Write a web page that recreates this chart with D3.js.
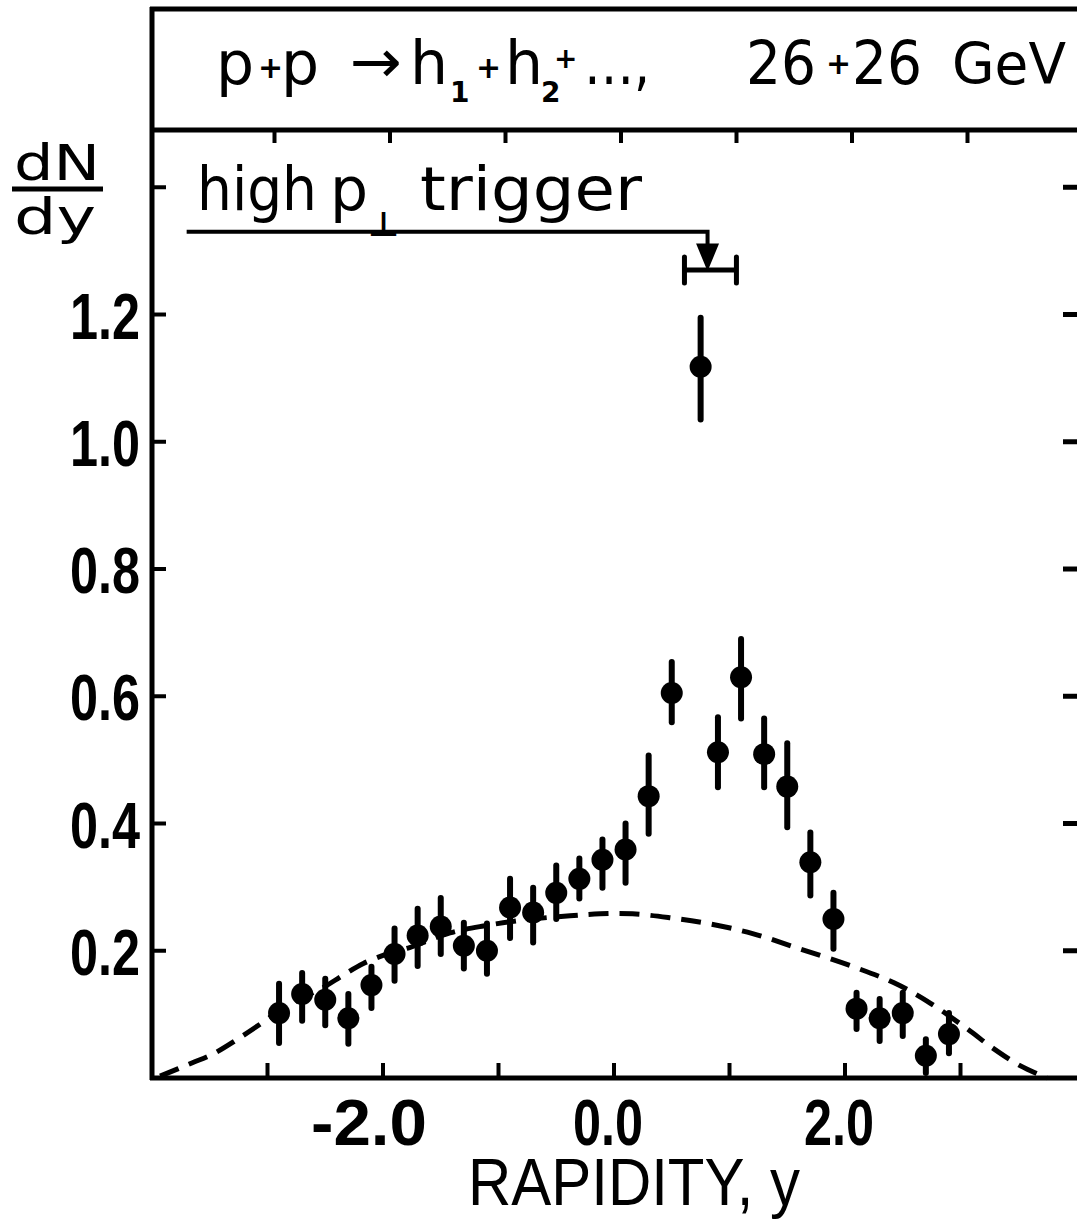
<!DOCTYPE html>
<html>
<head>
<meta charset="utf-8">
<script src="https://cdn.jsdelivr.net/npm/d3@7"></script>
<style>
html,body{margin:0;padding:0;background:#fff;}
svg{display:block;}
</style>
</head>
<body>
<svg id="chart" width="1077" height="1230"></svg>
<script>
// ---------- data ----------
const rapidity = [-2.9,-2.7,-2.5,-2.3,-2.1,-1.9,-1.7,-1.5,-1.3,-1.1,-0.9,-0.7,-0.5,-0.3,-0.1,0.1,0.3,0.5,0.9,1.1,1.3,1.5,1.7,1.9,2.1,2.3,2.5,2.7,2.9];
const dNdy     = [0.102,0.132,0.123,0.094,0.146,0.195,0.224,0.238,0.208,0.200,0.268,0.260,0.291,0.313,0.343,0.359,0.443,0.605,0.512,0.630,0.509,0.458,0.339,0.250,0.109,0.094,0.102,0.035,0.069];
const errLow   = [0.055,0.090,0.083,0.054,0.110,0.153,0.176,0.195,0.172,0.164,0.220,0.213,0.250,0.282,0.299,0.307,0.384,0.559,0.457,0.565,0.457,0.394,0.287,0.203,0.077,0.058,0.066,0.008,0.039];
const errHigh  = [0.148,0.165,0.156,0.132,0.175,0.235,0.266,0.283,0.244,0.243,0.313,0.299,0.334,0.345,0.375,0.400,0.507,0.654,0.567,0.690,0.565,0.526,0.386,0.291,0.134,0.124,0.134,0.061,0.102];

// trigger particle point
const trigX = [0.75];
const trigY = [1.118];
const trigLow = [1.035];
const trigHigh = [1.195];
const trigRange = [0.61, 1.06];
const trigArrowX = [0.81];

// dashed reference curve
const curveX = [-3.93,-3.65,-3.47,-3.26,-3.06,-2.87,-2.72,-2.52,-2.35,-2.17,-1.88,-1.77,-1.42,-1.13,-0.75,-0.38,-0.12,0.16,0.48,0.81,1.20,1.61,2.07,2.42,2.71,3.06,3.28,3.52,3.75];
const curveY = [0.003,0.024,0.038,0.061,0.085,0.109,0.124,0.142,0.161,0.180,0.200,0.205,0.228,0.239,0.249,0.255,0.258,0.258,0.252,0.243,0.227,0.203,0.175,0.150,0.121,0.077,0.047,0.019,0.0];

const xTicks = [-3,-2,-1,0,1,2,3];
const xTickLabels = [[-2,"-2.0"],[0,"0.0"],[2,"2.0"]];
const yTicks = [0.2,0.4,0.6,0.8,1.0,1.2,1.4];
const yTickLabels = [[0.2,"0.2"],[0.4,"0.4"],[0.6,"0.6"],[0.8,"0.8"],[1.0,"1.0"],[1.2,"1.2"]];

// ---------- layout ----------
const svg = d3.select("#chart");
const L = 152, R = 1076, B = 1078, T = 130, TOP = 9;
const x = d3.scaleLinear().domain([-4, 4]).range([L, R]);
const y = d3.scaleLinear().domain([0, 1.49]).range([B, T]);

const ink = "#000";
const numFont = "'Liberation Sans', Arial, sans-serif";
const txtFont = "'DejaVu Sans', 'Noto Sans', sans-serif";

// frame lines
svg.append("line").attr("x1", L).attr("x2", L).attr("y1", TOP - 2).attr("y2", B + 2)
  .attr("stroke", ink).attr("stroke-width", 5);
svg.append("line").attr("x1", L - 2).attr("x2", 1077).attr("y1", B).attr("y2", B)
  .attr("stroke", ink).attr("stroke-width", 5);
svg.append("line").attr("x1", L - 2).attr("x2", 1077).attr("y1", T).attr("y2", T)
  .attr("stroke", ink).attr("stroke-width", 5);
svg.append("line").attr("x1", L - 2).attr("x2", 1077).attr("y1", TOP).attr("y2", TOP)
  .attr("stroke", ink).attr("stroke-width", 5);

// ticks: bottom (up), top (down), left (right), right (left)
svg.append("g").selectAll("line").data(xTicks).join("line")
  .attr("x1", d => x(d)).attr("x2", d => x(d)).attr("y1", B).attr("y2", B - 15)
  .attr("stroke", ink).attr("stroke-width", 4);
svg.append("g").selectAll("line").data(xTicks).join("line")
  .attr("x1", d => x(d) + 7).attr("x2", d => x(d) + 7).attr("y1", T).attr("y2", T + 13)
  .attr("stroke", ink).attr("stroke-width", 4);
svg.append("g").selectAll("line").data(yTicks).join("line")
  .attr("x1", L).attr("x2", L + 14).attr("y1", d => y(d)).attr("y2", d => y(d))
  .attr("stroke", ink).attr("stroke-width", 4);
svg.append("g").selectAll("line").data(yTicks).join("line")
  .attr("x1", 1063).attr("x2", 1077).attr("y1", d => y(d)).attr("y2", d => y(d))
  .attr("stroke", ink).attr("stroke-width", 5);

// y tick labels
svg.append("g").selectAll("text").data(yTickLabels).join("text")
  .attr("x", 140).attr("y", d => y(d[0]) + 24)
  .attr("text-anchor", "end")
  .attr("font-family", numFont).attr("font-weight", "bold").attr("font-size", 64)
  .attr("textLength", 70).attr("lengthAdjust", "spacingAndGlyphs")
  .attr("fill", ink).text(d => d[1]);

// x tick labels
svg.append("g").selectAll("text").data(xTickLabels).join("text")
  .attr("x", d => x(d[0]) + (d[0] < 0 ? -14 : -6)).attr("y", 1145)
  .attr("text-anchor", "middle")
  .attr("font-family", numFont).attr("font-weight", "bold").attr("font-size", 64)
  .attr("textLength", d => d[0] < 0 ? 116 : 70).attr("lengthAdjust", "spacingAndGlyphs")
  .attr("fill", ink).text(d => d[1]);

// x axis title
svg.append("text").attr("x", 634).attr("y", 1205).attr("text-anchor", "middle")
  .attr("font-family", numFont).attr("font-size", 66)
  .attr("textLength", 332).attr("lengthAdjust", "spacingAndGlyphs")
  .attr("fill", ink).text("RAPIDITY, y");

// y axis title dN/dy
svg.append("text").attr("x", 57).attr("y", 180).attr("text-anchor", "middle")
  .attr("font-family", txtFont).attr("font-size", 50)
  .attr("textLength", 86).attr("lengthAdjust", "spacingAndGlyphs")
  .attr("fill", ink).text("dN");
svg.append("line").attr("x1", 12).attr("x2", 103).attr("y1", 189).attr("y2", 189)
  .attr("stroke", ink).attr("stroke-width", 5);
svg.append("text").attr("x", 55).attr("y", 234).attr("text-anchor", "middle")
  .attr("font-family", txtFont).attr("font-size", 50)
  .attr("textLength", 82).attr("lengthAdjust", "spacingAndGlyphs")
  .attr("fill", ink).text("dy");

// title in the top box
const title = svg.append("g").attr("font-family", txtFont).attr("fill", ink);
const big = 60;
title.append("text").attr("x", 216).attr("y", 84).attr("font-size", big).text("p");
title.append("text").attr("x", 258).attr("y", 78).attr("font-size", 30).attr("font-weight", "bold").text("+");
title.append("text").attr("x", 281).attr("y", 84).attr("font-size", big).text("p");
title.append("text").attr("x", 350).attr("y", 82).attr("font-size", big)
  .attr("textLength", 52).attr("lengthAdjust", "spacingAndGlyphs").text("→");
title.append("text").attr("x", 410).attr("y", 84).attr("font-size", big).text("h");
title.append("text").attr("x", 450).attr("y", 102).attr("font-size", 28).attr("font-weight", "bold").text("1");
title.append("text").attr("x", 476).attr("y", 78).attr("font-size", 30).attr("font-weight", "bold").text("+");
title.append("text").attr("x", 505).attr("y", 84).attr("font-size", big).text("h");
title.append("text").attr("x", 541).attr("y", 102).attr("font-size", 28).attr("font-weight", "bold").text("2");
title.append("text").attr("x", 554).attr("y", 68).attr("font-size", 28).attr("font-weight", "bold").text("+");
title.append("text").attr("x", 584).attr("y", 84).attr("font-size", big)
  .attr("textLength", 66).attr("lengthAdjust", "spacingAndGlyphs").text("…,");
title.append("text").attr("x", 746).attr("y", 84).attr("font-size", big)
  .attr("textLength", 70).attr("lengthAdjust", "spacingAndGlyphs").text("26");
title.append("text").attr("x", 826).attr("y", 74).attr("font-size", 30).attr("font-weight", "bold").text("+");
title.append("text").attr("x", 852).attr("y", 84).attr("font-size", big)
  .attr("textLength", 70).attr("lengthAdjust", "spacingAndGlyphs").text("26");
title.append("text").attr("x", 952).attr("y", 84).attr("font-size", 57)
  .attr("textLength", 114).attr("lengthAdjust", "spacingAndGlyphs").text("GeV");

// "high p⊥ trigger" annotation
const ann = svg.append("g").attr("font-family", txtFont).attr("fill", ink);
ann.append("text").attr("x", 197).attr("y", 210).attr("font-size", 60)
  .attr("textLength", 120).attr("lengthAdjust", "spacingAndGlyphs").text("high");
ann.append("text").attr("x", 330).attr("y", 210).attr("font-size", 60).text("p");
ann.append("text").attr("x", 368).attr("y", 236).attr("font-size", 34).attr("font-weight", "bold").text("⊥");
ann.append("text").attr("x", 420).attr("y", 210).attr("font-size", 60)
  .attr("textLength", 222).attr("lengthAdjust", "spacingAndGlyphs").text("trigger");

const lvl = 1.33;
svg.append("path")
  .attr("d", d3.line()([[x(-3.7), y(lvl)], [x(trigArrowX[0]), y(lvl)], [x(trigArrowX[0]), y(1.30)]]))
  .attr("fill", "none").attr("stroke", ink).attr("stroke-width", 4);
svg.append("path")
  .attr("d", d3.line()([[x(trigArrowX[0]) - 10, y(1.31)], [x(trigArrowX[0]) + 10, y(1.31)], [x(trigArrowX[0]), y(1.272)]]) + "Z")
  .attr("fill", ink).attr("stroke", ink).attr("stroke-width", 2);
svg.append("line").attr("x1", x(trigRange[0])).attr("x2", x(trigRange[1]))
  .attr("y1", y(1.27)).attr("y2", y(1.27)).attr("stroke", ink).attr("stroke-width", 5);
svg.append("g").selectAll("line").data(trigRange).join("line")
  .attr("x1", d => x(d)).attr("x2", d => x(d))
  .attr("y1", y(1.27) - 13).attr("y2", y(1.27) + 13)
  .attr("stroke", ink).attr("stroke-width", 5).attr("stroke-linecap", "round");

// dashed curve
const curve = curveX.map((v, i) => [v, curveY[i]]);
svg.append("path")
  .attr("d", d3.line().x(d => x(d[0])).y(d => y(d[1])).curve(d3.curveCatmullRom)(curve))
  .attr("fill", "none").attr("stroke", ink).attr("stroke-width", 5)
  .attr("stroke-dasharray", "20,11");

// data points with error bars
const pts = rapidity.map((v, i) => ({x: v, y: dNdy[i], lo: errLow[i], hi: errHigh[i]}));
pts.push({x: trigX[0], y: trigY[0], lo: trigLow[0], hi: trigHigh[0]});
const g = svg.append("g");
g.selectAll("line").data(pts).join("line")
  .attr("x1", d => x(d.x)).attr("x2", d => x(d.x))
  .attr("y1", d => y(d.lo)).attr("y2", d => y(d.hi))
  .attr("stroke", ink).attr("stroke-width", 6).attr("stroke-linecap", "round");
g.selectAll("circle").data(pts).join("circle")
  .attr("cx", d => x(d.x)).attr("cy", d => y(d.y)).attr("r", 11)
  .attr("fill", ink);
</script>
</body>
</html>
